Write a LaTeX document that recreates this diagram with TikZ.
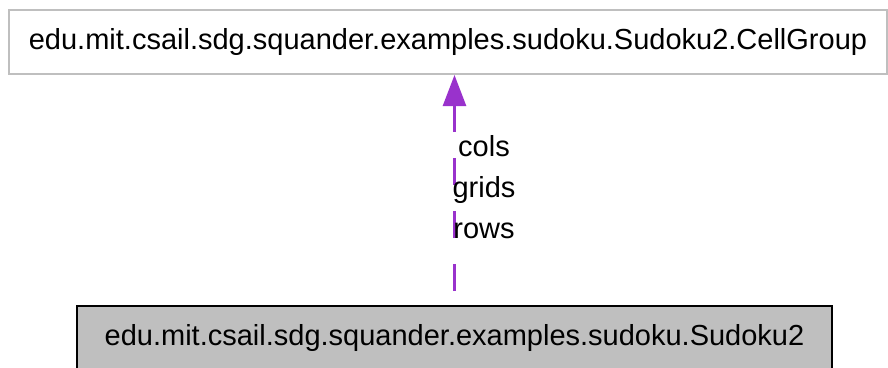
\documentclass[tikz,border=0pt]{standalone}
\usepackage{fontspec}
\setmainfont{Liberation Sans}
\usepackage{tikz}
\usetikzlibrary{arrows.meta, positioning}
\definecolor{edgepurple}{RGB}{153,50,204}
\definecolor{boxgray}{RGB}{191,191,191}

\begin{document}
\begin{tikzpicture}[x=1pt, y=-1pt, font=\fontsize{29}{41}\selectfont,
    classbox/.style={draw, line width=2pt, minimum height=64pt, inner sep=0pt, rectangle},
    usedby/.style={edgepurple, line width=2.6pt, dash pattern=on 27pt off 26pt,
      -{Triangle[length=31pt, width=23pt]}}]
  \clip (0,0) rectangle (888,367);
  % used class (top)
  \node[classbox, draw=boxgray, minimum width=878pt] (cellgroup) at (448,42)
    {edu.mit.csail.sdg.squander.examples.sudoku.Sudoku2.CellGroup};
  % owning class (bottom)
  \node[classbox, fill=boxgray, minimum width=755pt] (sudoku) at (454.5,338)
    {edu.mit.csail.sdg.squander.examples.sudoku.Sudoku2};
  % association
  \draw[usedby, shorten <=14pt] (sudoku) -- (cellgroup.south -| sudoku);
  \node[align=center, inner sep=0pt] (fields) at (484,187) {cols\\grids\\rows};
\end{tikzpicture}
\end{document}
